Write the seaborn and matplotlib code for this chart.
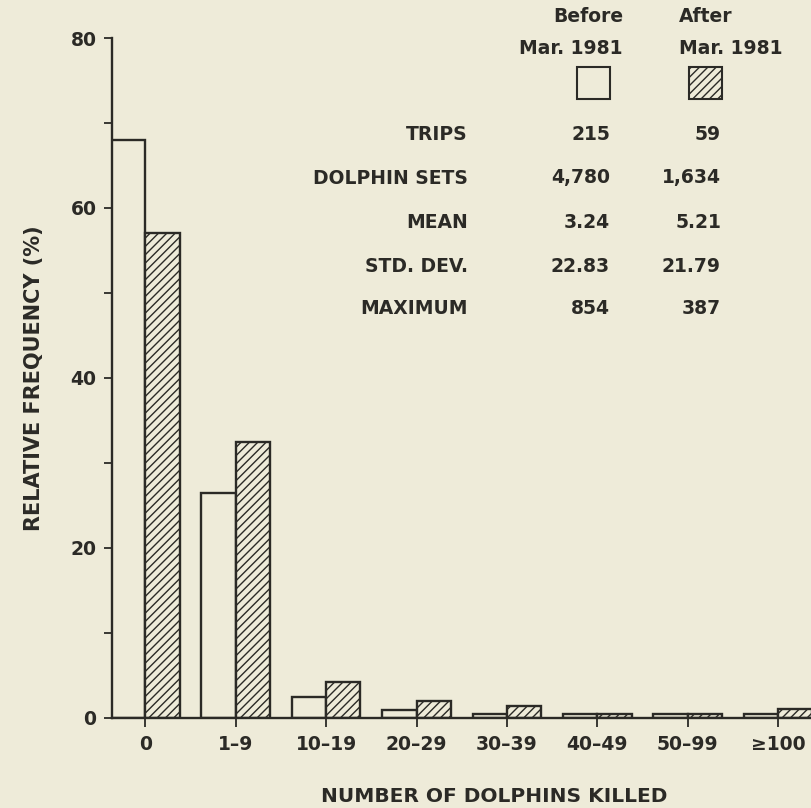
import matplotlib
matplotlib.use("Agg")
import matplotlib.pyplot as plt
from matplotlib.patches import Rectangle
import pandas as pd
import seaborn as sns

# Relative frequency (%) of dolphins killed per set, by kill-size class
categories = ["0", "1–9", "10–19", "20–29", "30–39", "40–49", "50–99", "≥100"]
before_pct = [68.0, 26.4, 2.4, 0.9, 0.4, 0.4, 0.4, 0.4]
after_pct = [57.0, 32.4, 4.2, 1.9, 1.3, 0.4, 0.4, 1.0]
periods = ["Before", "After"]

# Summary table shown above the bars
header_top = ["Before", "After"]
header_bottom = ["Mar. 1981", "Mar. 1981"]
stat_names = ["TRIPS", "DOLPHIN SETS", "MEAN", "STD. DEV.", "MAXIMUM"]
stats_before = ["215", "4,780", "3.24", "22.83", "854"]
stats_after = ["59", "1,634", "5.21", "21.79", "387"]

y_major = [0, 20, 40, 60, 80]
y_minor = [10, 30, 50, 70]

BG = "#eeebd9"
INK = "#2b2a26"
W_PX, H_PX = 812, 808
FS = 13.5

df = pd.DataFrame({
    "range": categories * 2,
    "pct": before_pct + after_pct,
    "period": [periods[0]] * len(categories) + [periods[1]] * len(categories),
})

sns.set_theme(style="ticks")
plt.rcParams["font.family"] = ["DejaVu Sans"]
plt.rcParams["font.weight"] = "bold"
plt.rcParams["hatch.color"] = INK
plt.rcParams["hatch.linewidth"] = 1.0
plt.rcParams["text.color"] = INK


def fig_xy(x, y):
    """Pixel position (from top-left) to figure fraction."""
    return x / W_PX, 1 - y / H_PX


fig = plt.figure(figsize=(W_PX / 100, H_PX / 100), dpi=100, facecolor=BG)
left, top, bottom = 111.7, 38.0, 717.5
ax = fig.add_axes([left / W_PX, 1 - bottom / H_PX,
                   (W_PX - left) / W_PX, (bottom - top) / H_PX])
ax.set_facecolor(BG)

sns.barplot(data=df, x="range", y="pct", hue="period",
            order=categories, hue_order=periods,
            palette={"Before": BG, "After": BG}, saturation=1,
            width=0.76, edgecolor=INK, linewidth=1.7,
            legend=False, ax=ax)

for bar in ax.containers[1]:
    bar.set_hatch("////")

ax.set_xlim(-0.372, 7.375)
ax.set_ylim(0, 80)
ax.set_yticks(y_major)
ax.set_yticks(y_minor, minor=True)
ax.set_yticklabels([str(v) for v in y_major])

for side in ["top", "right"]:
    ax.spines[side].set_visible(False)
for side in ["left", "bottom"]:
    ax.spines[side].set_linewidth(1.7)
    ax.spines[side].set_color(INK)

ax.tick_params(axis="y", which="both", direction="out", length=6, width=1.3,
               color=INK, labelcolor=INK, labelsize=FS, pad=5)
ax.tick_params(axis="x", direction="out", length=6.5, width=1.3,
               color=INK, labelcolor=INK, labelsize=FS, pad=6)
for lab in ax.get_xticklabels() + ax.get_yticklabels():
    lab.set_fontweight("bold")

ax.set_xlabel("")
ax.set_ylabel("RELATIVE FREQUENCY (%)", fontsize=15, fontweight="bold",
              color=INK)
ax.yaxis.set_label_coords(-0.097, 0.5)

fig.text(*fig_xy(494, 797), "NUMBER OF DOLPHINS KILLED", ha="center",
         va="center", fontsize=14.5, fontweight="bold", color=INK)

# Column headers
fig.text(*fig_xy(623, 16), header_top[0], ha="right", va="center", fontsize=FS)
fig.text(*fig_xy(623, 48), header_bottom[0], ha="right", va="center", fontsize=FS)
fig.text(*fig_xy(679, 16), header_top[1], ha="left", va="center", fontsize=FS)
fig.text(*fig_xy(679, 48), header_bottom[1], ha="left", va="center", fontsize=FS)

# Key boxes
for x0, hatch in [(577, None), (689, "////")]:
    fx, fy = fig_xy(x0, 99)
    fig.add_artist(Rectangle((fx, fy), 33 / W_PX, 32 / H_PX,
                             transform=fig.transFigure, facecolor=BG,
                             edgecolor=INK, linewidth=1.5, hatch=hatch))

# Statistics rows
row_y = [135, 178, 222, 266, 309]
for name, vb, va_, y in zip(stat_names, stats_before, stats_after, row_y):
    fig.text(*fig_xy(468, y), name, ha="right", va="center", fontsize=FS)
    fig.text(*fig_xy(610, y), vb, ha="right", va="center", fontsize=FS)
    fig.text(*fig_xy(721, y), va_, ha="right", va="center", fontsize=FS)

fig.savefig("out.png", dpi=100, facecolor=BG)
